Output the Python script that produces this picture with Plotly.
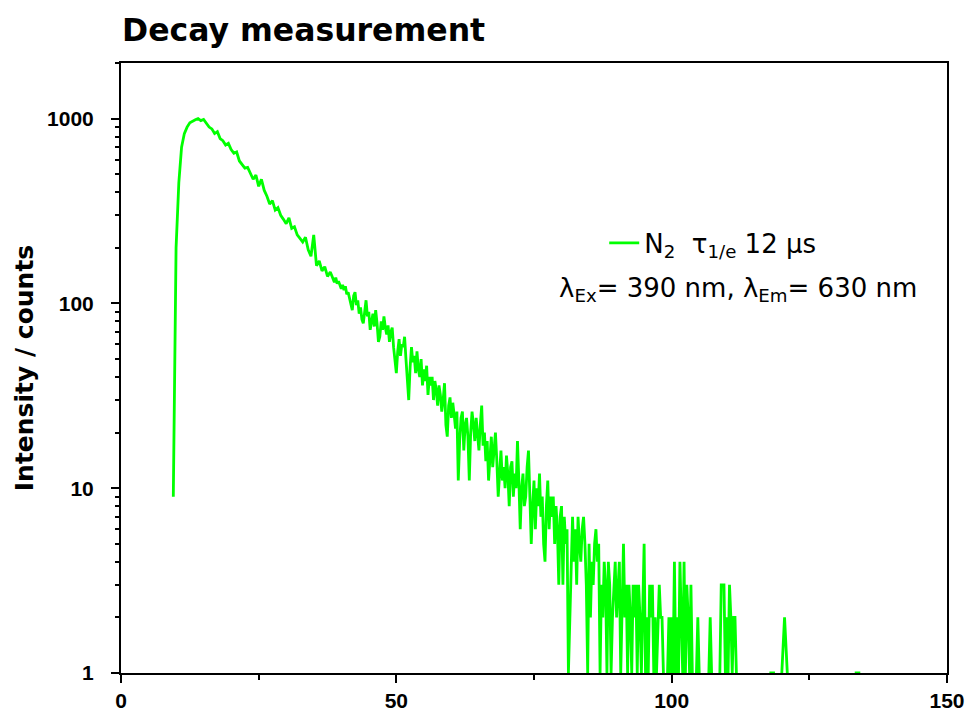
import plotly.graph_objects as go

# time axis (µs) and measured counts (read from the recorded decay)
time_us = [
    9.5, 10.0, 10.5, 11.0, 11.5, 12.0, 12.5, 13.0, 13.5, 14.0,
    14.5, 15.0, 15.5, 16.0, 16.5, 17.0, 17.5, 18.0, 18.5, 19.0,
    19.5, 20.0, 20.5, 21.0, 21.5, 22.0, 22.5, 23.0, 23.5, 24.0,
    24.5, 25.0, 25.5, 26.0, 26.5, 27.0, 27.5, 28.0, 28.5, 29.0,
    29.5, 30.0, 30.5, 31.0, 31.5, 32.0, 32.5, 33.0, 33.5, 34.0,
    34.5, 35.0, 35.5, 36.0, 36.5, 37.0, 37.5, 38.0,
    38.25, 38.5, 38.75, 39.0, 39.25, 39.5, 39.75, 40.0,
    40.25, 40.5, 40.75, 41.0, 41.25, 41.5, 41.75, 42.0,
    42.25, 42.5, 42.75, 43.0, 43.25, 43.5, 43.75, 44.0,
    44.25, 44.5, 44.75, 45.0, 45.25, 45.5, 45.75, 46.0,
    46.25, 46.5, 46.75, 47.0, 47.25, 47.5, 47.75, 48.0,
    48.25, 48.5, 48.75, 49.0, 49.25, 49.5, 49.75, 50.0,
    50.25, 50.5, 50.75, 51.0, 51.25, 51.5, 51.75, 52.0,
    52.25, 52.5, 52.75, 53.0, 53.25, 53.5, 53.75, 54.0,
    54.25, 54.5, 54.75, 55.0, 55.25, 55.5, 55.75, 56.0,
    56.25, 56.5, 56.75, 57.0, 57.25, 57.5, 57.75, 58.0,
    58.25, 58.5, 58.75, 59.0, 59.25, 59.5, 59.75, 60.0,
    60.25, 60.5, 60.75, 61.0, 61.25, 61.5, 61.75, 62.0,
    62.25, 62.5, 62.75, 63.0, 63.25, 63.5, 63.75, 64.0,
    64.25, 64.5, 64.75, 65.0, 65.25, 65.5, 65.75, 66.0,
    66.25, 66.5, 66.75, 67.0, 67.25, 67.5, 67.75, 68.0,
    68.25, 68.5, 68.75, 69.0, 69.25, 69.5, 69.75, 70.0,
    70.25, 70.5, 70.75, 71.0, 71.25, 71.5, 71.75, 72.0,
    72.25, 72.5, 72.75, 73.0, 73.25, 73.5, 73.75, 74.0,
    74.25, 74.5, 74.75, 75.0, 75.25, 75.5, 75.75, 76.0,
    76.25, 76.5, 76.75, 77.0, 77.25, 77.5, 77.75, 78.0,
    78.25, 78.5, 78.75, 79.0, 79.25, 79.5, 79.75, 80.0,
    80.25, 80.5, 80.75, 81.0, 81.25, 81.5, 81.75, 82.0,
    82.25, 82.5, 82.75, 83.0, 83.25, 83.5, 83.75, 84.0,
    84.25, 84.5, 84.75, 85.0, 85.25, 85.5, 85.75, 86.0,
    86.25, 86.5, 86.75, 87.0, 87.25, 87.5, 87.75, 88.0,
    88.25, 88.5, 88.75, 89.0, 89.25, 89.5, 89.75, 90.0,
    90.25, 90.5, 90.75, 91.0, 91.25, 91.5, 91.75, 92.0,
    92.25, 92.5, 92.75, 93.0, 93.25, 93.5, 93.75, 94.0,
    94.25, 94.5, 94.75, 95.0, 95.25, 95.5, 95.75, 96.0,
    96.25, 96.5, 96.75, 97.0, 97.25, 97.5, 97.75, 98.0,
    98.25, 98.5, 98.75, 99.0, 99.25, 99.5, 99.75, 100.0,
    100.25, 100.5, 100.75, 101.0, 101.25, 101.5, 101.75, 102.0,
    102.25, 102.5, 102.75, 103.0, 103.25, 103.5, 103.75, 104.0,
    104.25, 104.5, 104.75, 105.0, 105.25, 105.5, 105.75, 106.0,
    106.25, 106.5, 106.75, 107.0, 107.25, 107.5, 107.75, 108.0,
    108.25, 108.5, 108.75, 109.0, 109.25, 109.5, 109.75, 110.0,
    110.25, 110.5, 110.75, 111.0, 111.25, 111.5, 111.75, 112.0,
    112.5, 113.0, 113.5, 114.0, 114.5, 115.0, 115.5, 116.0,
    116.5, 117.0, 117.5, 118.0, 118.5, 119.0, 119.5, 120.0,
    120.5, 121.0, 121.5, 122.0, 122.5, 123.0, 123.5, 124.0,
    124.5, 125.0, 125.5, 126.0, 126.5, 127.0, 127.5, 128.0,
    128.5, 129.0, 129.5, 130.0, 130.5, 131.0, 131.5, 132.0,
    132.5, 133.0, 133.5, 134.0, 134.5, 135.0,
]

counts = [
    9, 200, 450, 700, 830, 900, 950, 970, 985, 1000,
    975, 990, 950, 900, 880, 830, 850, 780, 760, 720,
    735, 680, 650, 660, 590, 560, 540, 545, 500, 470,
    495, 430, 470, 410, 380, 345, 360, 320, 330, 300,
    285, 270, 290, 255, 260, 235, 225, 215, 228, 195,
    180, 235, 160, 170, 150, 158, 140, 148,
    142, 135, 130, 138, 128, 132, 125, 120,
    126, 118, 124, 112, 115, 108, 100, 92,
    110, 115, 98, 104, 88, 95, 82, 78,
    90, 104, 85, 90, 72, 82, 88, 75,
    92, 78, 62, 66, 80, 72, 85, 74,
    68, 76, 62, 70, 74, 58, 50, 42,
    55, 64, 52, 60, 58, 66, 50, 38,
    30, 45, 58, 48, 52, 42, 55, 44,
    40, 50, 36, 44, 38, 46, 32, 40,
    36, 40, 30, 38, 34, 28, 36, 32,
    26, 30, 37, 22, 19, 28, 31, 24,
    29, 25, 21, 26, 11, 18, 24, 26,
    16, 22, 24, 19, 11, 20, 26, 22,
    18, 24, 20, 16, 22, 28, 17, 20,
    14, 18, 11, 15, 19, 13, 17, 20,
    14, 9, 12, 16, 11, 13, 10, 15,
    12, 8, 13, 14, 9, 12, 10, 18,
    11, 6, 10, 12, 8, 9, 13, 16,
    9, 5, 8, 11, 6, 10, 8, 12,
    7, 9, 5, 4, 8, 11, 6, 9,
    7, 9, 5, 8, 6, 3, 7, 8,
    3, 7, 5, 6, 1, 2, 5, 7,
    4, 6, 3, 7, 5, 4, 6, 7,
    5, 3, 1, 5, 2, 4, 3, 5,
    6, 4, 5, 1, 3, 2, 4, 3,
    1, 4, 3, 1, 2, 3, 4, 2,
    3, 4, 1, 3, 5, 2, 3, 1,
    3, 2, 1, 3, 2, 3, 1, 3,
    2, 1, 3, 5, 1, 2, 1, 3,
    2, 3, 1, 2, 1, 2, 3, 2,
    2, 1, 0, 0, 1, 2, 1, 2,
    1, 4, 1, 2, 1, 4, 2, 1,
    4, 1, 3, 2, 1, 3, 1, 0,
    0, 1, 2, 1, 0, 0, 1, 0,
    0, 0, 1, 2, 1, 0, 0, 0,
    0, 0, 1, 3, 3, 3, 1, 2,
    1, 3, 2, 1, 2, 2, 1, 0,
    0, 0, 0, 0, 0, 0, 0, 0,
    0, 0, 0, 1, 1, 0, 0, 1,
    2, 1, 0, 0, 0, 0, 0, 0,
    0, 0, 0, 0, 0, 0, 0, 0,
    0, 0, 0, 0, 0, 0, 0, 0,
    0, 0, 1, 1, 0, 0,
]

x_ticks = [0, 50, 100, 150]
x_minor_ticks = [25, 75, 125]
y_ticks = [1, 10, 100, 1000]
y_ticklabels = ["1", "10", "100", "1000"]

series_name = "N<sub>2</sub>\u00a0 τ<sub>1/e</sub> 12 μs"
note_text = "λ<sub>Ex</sub>= 390 nm, λ<sub>Em</sub>= 630 nm"

TICK_FONT = "Liberation Sans, Arial, sans-serif"
TEXT_FONT = "DejaVu Sans, Liberation Sans, sans-serif"

W, H = 971, 718

fig = go.Figure()
fig.add_trace(go.Scatter(
    x=time_us, y=counts, mode="lines", name=series_name,
    line=dict(color="#00FF00", width=2.8),
))

fig.update_layout(
    width=W, height=H,
    margin=dict(l=121, r=24, t=63, b=45),
    paper_bgcolor="white", plot_bgcolor="white",
    font=dict(family=TEXT_FONT, color="black"),
    title=dict(text="<b>Decay measurement</b>", x=122/W, xanchor="left",
               xref="container", y=1-30/H, yanchor="middle",
               font=dict(family=TEXT_FONT, size=31.5, color="black")),
    showlegend=True,
    legend=dict(x=0.585, y=0.705, xanchor="left", yanchor="middle",
                bgcolor="rgba(0,0,0,0)",
                font=dict(family=TEXT_FONT, size=26, color="black")),
)

fig.update_xaxes(
    range=[0, 150], tickvals=x_ticks, ticks="outside", ticklen=8, tickwidth=2,
    tickcolor="black", showline=True, linewidth=2, linecolor="black", mirror=True,
    showgrid=False, zeroline=False, automargin=False,
    tickfont=dict(family=TICK_FONT, size=21, color="black", weight="bold"),
    minor=dict(tickvals=x_minor_ticks, ticks="outside", ticklen=5, tickwidth=2,
               tickcolor="black", showgrid=False),
)
fig.update_yaxes(
    type="log", range=[0, 3.301], tickvals=y_ticks, ticktext=y_ticklabels,
    ticks="outside", ticklen=8, tickwidth=2, tickcolor="black",
    ticklabelstandoff=13, automargin=False,
    showline=True, linewidth=2, linecolor="black", mirror=True,
    showgrid=False, zeroline=False,
    tickfont=dict(family=TICK_FONT, size=21, color="black", weight="bold"),
    minor=dict(dtick="D1", ticks="outside", ticklen=4, tickwidth=1.5,
               tickcolor="black", showgrid=False),
    title=dict(text="<b>Intensity / counts</b>", standoff=6,
               font=dict(family=TEXT_FONT, size=25, color="black")),
)

fig.add_annotation(
    text=note_text, xref="paper", yref="paper", x=0.528, y=0.628,
    xanchor="left", yanchor="middle", showarrow=False,
    font=dict(family=TEXT_FONT, size=26, color="black"),
)

# remove the browser's default 8px body margin so the figure fills the window
fig.write_html("out.html", config={"displayModeBar": False},
               post_script="document.body.style.margin='0';")
